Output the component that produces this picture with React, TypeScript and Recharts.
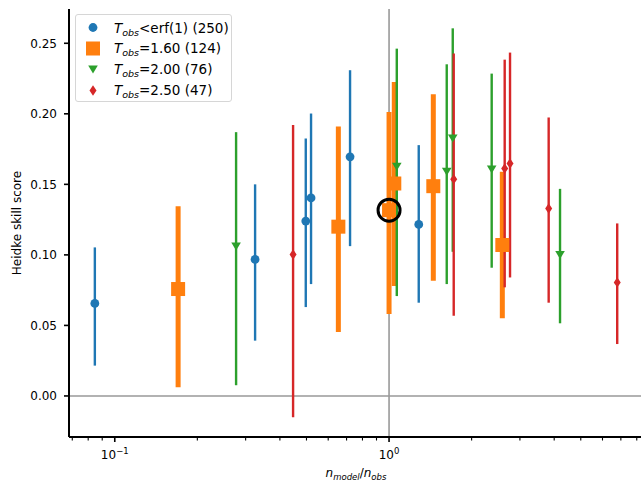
import React from 'react';
import {
  ScatterChart,
  Scatter,
  XAxis,
  YAxis,
  ErrorBar,
  ReferenceLine,
} from 'recharts';

// series meta
const seriesLabels = ['<erf(1)', '=1.60', '=2.00', '=2.50'];
const seriesCounts = [250, 124, 76, 47];
const seriesColors = ['#1f77b4', '#ff7f0e', '#2ca02c', '#d62728'];

// T_obs < erf(1)
const blueX = [0.0846, 0.3248, 0.497, 0.5195, 0.7208, 1.283];
const blueY = [0.0656, 0.0968, 0.124, 0.1404, 0.1695, 0.1216];
const blueLo = [0.0215, 0.0392, 0.063, 0.0793, 0.1062, 0.0661];
const blueHi = [0.1053, 0.15, 0.1825, 0.2002, 0.2309, 0.1778];

// T_obs = 1.60
const orangeX = [0.1702, 0.6534, 1.0, 1.045, 1.45, 2.588];
const orangeY = [0.0758, 0.12, 0.1317, 0.1506, 0.1487, 0.107];
const orangeLo = [0.0062, 0.0453, 0.0581, 0.0779, 0.0817, 0.055];
const orangeHi = [0.1345, 0.191, 0.2013, 0.2226, 0.2139, 0.159];

// T_obs = 2.00
const greenX = [0.2769, 1.067, 1.623, 1.707, 2.367, 4.201];
const greenY = [0.106, 0.1624, 0.1589, 0.1825, 0.1605, 0.0999];
const greenLo = [0.0076, 0.0708, 0.0793, 0.1022, 0.0909, 0.0515];
const greenHi = [0.187, 0.2462, 0.2351, 0.2606, 0.2285, 0.1468];

// T_obs = 2.50
const redX = [0.4468, 1.721, 2.64, 2.761, 3.819, 6.79];
const redY = [0.1003, 0.1537, 0.1612, 0.1648, 0.1329, 0.0805];
const redLo = [-0.0151, 0.0569, 0.077, 0.084, 0.0661, 0.0368];
const redHi = [0.192, 0.2427, 0.2384, 0.2434, 0.1974, 0.1223];

// the circled point (orange, n_model/n_obs = 1)
const highlightIndex = 2;

const xMajorTicks = [0.1, 1];
const xMinorTicks = [0.07, 0.08, 0.09, 0.2, 0.3, 0.4, 0.5, 0.6, 0.7, 0.8, 0.9, 2, 3, 4, 5, 6, 7, 8];
const yTicks = [0, 0.05, 0.1, 0.15, 0.2, 0.25];

const xDomain = [0.0681, 8.29];
const yDomain = [-0.0291, 0.2743];

const FONT = '"DejaVu Sans", sans-serif';

const toRows = (xs: number[], ys: number[], lo: number[], hi: number[]) =>
  xs.map((x, i) => ({ x, y: ys[i], err: [ys[i] - lo[i], hi[i] - ys[i]] }));

const blueRows = toRows(blueX, blueY, blueLo, blueHi);
const orangeRows = toRows(orangeX, orangeY, orangeLo, orangeHi);
const greenRows = toRows(greenX, greenY, greenLo, greenHi);
const redRows = toRows(redX, redY, redLo, redHi);

const markerPath = (kind: number, cx: number, cy: number, color: string) => {
  switch (kind) {
    case 0:
      return <circle cx={cx} cy={cy} r={4.4} fill={color} />;
    case 1:
      return <rect x={cx - 7} y={cy - 7} width={14} height={14} fill={color} />;
    case 2:
      return (
        <polygon
          points={`${cx - 4.8},${cy - 4} ${cx + 4.8},${cy - 4} ${cx},${cy + 4}`}
          fill={color}
        />
      );
    default:
      return (
        <polygon
          points={`${cx},${cy - 5.2} ${cx + 3.5},${cy} ${cx},${cy + 5.2} ${cx - 3.5},${cy}`}
          fill={color}
        />
      );
  }
};

const makeShape = (kind: number) => (props: any) =>
  markerPath(kind, props.cx, props.cy, seriesColors[kind]);

const XTick = (props: any) => {
  const { x, y, payload } = props;
  const v = payload.value;
  const major = xMajorTicks.includes(v);
  const exp = Math.round(Math.log10(v));
  return (
    <g>
      <line
        x1={x}
        x2={x}
        y1={y}
        y2={y + (major ? 5 : 3.5)}
        stroke="#000"
        strokeWidth={major ? 1.6 : 1.1}
      />
      {major && (
        <text x={x} y={y + 22} textAnchor="middle" fontSize={12} fill="#000" fontFamily={FONT}>
          10
          <tspan dy={-5} fontSize={8.5}>
            {exp < 0 ? `\u2212${-exp}` : `${exp}`}
          </tspan>
        </text>
      )}
    </g>
  );
};

const YTick = (props: any) => {
  const { x, y, payload } = props;
  return (
    <g>
      <line x1={x - 5} x2={x} y1={y} y2={y} stroke="#000" strokeWidth={1.6} />
      <text x={x - 12} y={y} dy="0.36em" textAnchor="end" fontSize={12} fill="#000" fontFamily={FONT}>
        {payload.value.toFixed(2)}
      </text>
    </g>
  );
};

const XLabel = (props: any) => {
  const { x, y, width } = props.viewBox;
  return (
    <text x={x + width / 2 + 1} y={y + 40} textAnchor="middle" fontSize={12} fill="#000" fontFamily={FONT}>
      <tspan fontStyle="italic">n</tspan>
      <tspan fontStyle="italic" fontSize={8.5} dy={2.5}>model</tspan>
      <tspan dy={-2.5}>/</tspan>
      <tspan fontStyle="italic">n</tspan>
      <tspan fontStyle="italic" fontSize={8.5} dy={2.5}>obs</tspan>
    </text>
  );
};

const YLabel = () => (
  <svg width={40} height={485} style={{ position: 'absolute', left: 0, top: 0 }}>
    <text
      x={16.5}
      y={223}
      transform="rotate(-90 16.5 223)"
      textAnchor="middle"
      dy="0.36em"
      fontSize={12}
      fill="#000"
      fontFamily={FONT}
    >
      Heidke skill score
    </text>
  </svg>
);

const LegendBox = () => (
  <div
    style={{
      position: 'absolute',
      left: 75,
      top: 14,
      width: 157,
      height: 88,
      border: '1px solid #d6d6d6',
      borderRadius: 3,
      background: 'rgba(255,255,255,0.8)',
      fontFamily: FONT,
      fontSize: 13.5,
      color: '#000',
      boxSizing: 'border-box',
    }}
  >
    {seriesLabels.map((label, i) => (
      <div
        key={label}
        style={{
          position: 'absolute',
          left: 0,
          top: 2 + i * 20.9,
          height: 21,
          display: 'flex',
          alignItems: 'center',
          whiteSpace: 'nowrap',
        }}
      >
        <svg width={36} height={21} style={{ display: 'block' }}>
          {markerPath(i, 17, 10.5, seriesColors[i])}
        </svg>
        <span style={{ marginLeft: 2 }}>
          <i>T</i>
          <i style={{ fontSize: 9.5, position: 'relative', top: 3 }}>obs</i>
          {label} ({seriesCounts[i]})
        </span>
      </div>
    ))}
  </div>
);

export default function App() {
  const rowsList = [blueRows, orangeRows, greenRows, redRows];
  return (
    <div style={{ position: 'absolute', left: 0, top: 0, width: 641, height: 485, overflow: 'hidden', background: '#fff' }}>
      <ScatterChart width={641} height={485} margin={{ top: 9, right: 0, bottom: 0, left: 0 }}>
        <XAxis
          dataKey="x"
          type="number"
          scale="log"
          domain={xDomain}
          allowDataOverflow
          ticks={[...xMinorTicks, ...xMajorTicks].sort((a, b) => a - b)}
          interval={0}
          tick={<XTick />}
          tickLine={false}
          tickSize={0}
          tickMargin={0}
          height={48}
          axisLine={{ stroke: '#000', strokeWidth: 2 }}
          label={<XLabel />}
        />
        <XAxis
          xAxisId="top"
          orientation="top"
          type="number"
          scale="log"
          domain={xDomain}
          allowDataOverflow
          height={0}
          tick={false}
          tickLine={false}
          axisLine={{ stroke: '#000', strokeWidth: 2 }}
        />
        <YAxis
          dataKey="y"
          type="number"
          domain={yDomain}
          allowDataOverflow
          ticks={yTicks}
          interval={0}
          tick={<YTick />}
          tickLine={false}
          tickSize={0}
          tickMargin={0}
          width={69}
          axisLine={{ stroke: '#000', strokeWidth: 2 }}
        />
        <ReferenceLine y={0} stroke="#999" strokeWidth={1.6} />
        <ReferenceLine x={1} stroke="#999" strokeWidth={1.6} />
        {rowsList.map((rows, i) => (
          <Scatter key={i} data={rows} shape={makeShape(i)} isAnimationActive={false}>
            <ErrorBar
              dataKey="err"
              direction="y"
              width={0}
              stroke={seriesColors[i]}
              strokeWidth={i === 1 ? 5 : 2.4}
              isAnimationActive={false}
            />
          </Scatter>
        ))}
        <Scatter
          data={[orangeRows[highlightIndex]]}
          isAnimationActive={false}
          shape={(p: any) => (
            <circle cx={p.cx} cy={p.cy} r={11} fill="none" stroke="#000" strokeWidth={3} />
          )}
        />
      </ScatterChart>
      <YLabel />
      <LegendBox />
    </div>
  );
}
